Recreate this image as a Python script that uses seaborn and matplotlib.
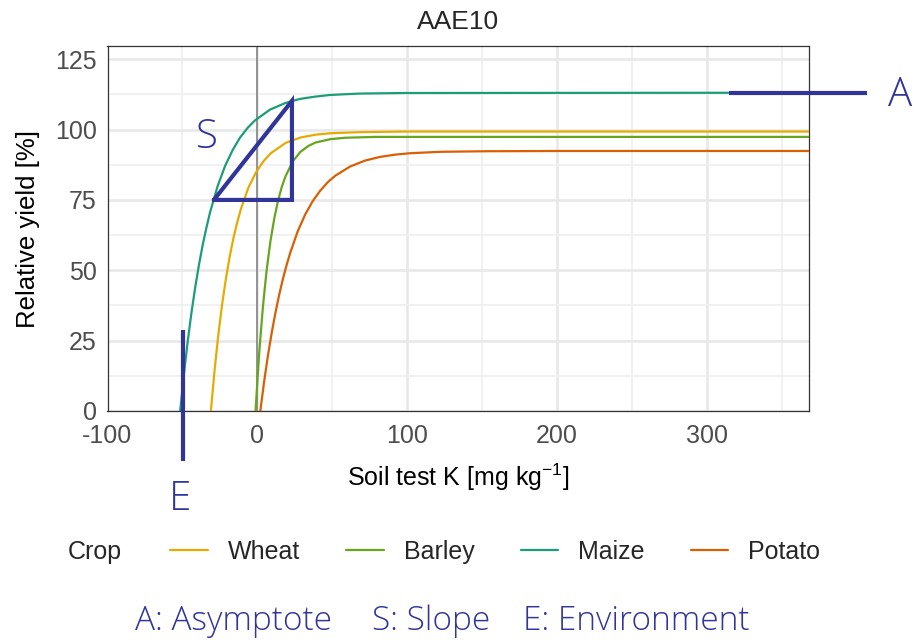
import numpy as np
import pandas as pd
import matplotlib
matplotlib.use("Agg")
import matplotlib.pyplot as plt
import seaborn as sns
from matplotlib.lines import Line2D

# ---------------- data ----------------
crops = ["Wheat", "Barley", "Maize", "Potato"]
crop_colors = ["#E6AB02", "#66A61E", "#1B9E77", "#D95F02"]

wheat_x = [-31, -28.5, -26, -23.5, -21, -18.5, -16, -13.5, -11, -6, -1, 4, 9, 19, 29, 39, 49, 69, 99, 368]
wheat_y = [0, 14.7, 27.2, 37.9, 46.9, 54.7, 61.3, 66.9, 71.7, 79.3, 84.7, 88.7, 91.6, 95.3, 97.2, 98.2, 98.7, 99.1, 99.3, 99.3]

barley_x = [-1.2, 0.1, 1.3, 2.6, 3.8, 5.1, 6.3, 7.6, 8.8, 11.3, 13.8, 16.3, 18.8, 23.8, 28.8, 33.8, 38.8, 48.8, 58.8, 78.8, 368]
barley_y = [0, 11.1, 21.0, 29.7, 37.4, 44.3, 50.4, 55.7, 60.5, 68.4, 74.7, 79.6, 83.4, 88.8, 92.1, 94.1, 95.4, 96.6, 97.1, 97.4, 97.4]

maize_x = [-51.5, -49, -46.5, -44, -41.5, -39, -36.5, -34, -31.5, -26.5, -21.5, -16.5, -11.5, -6.5, -1.5, 8.5, 18.5, 28.5, 38.5, 48.5, 68.5, 98.5, 368]
maize_y = [0, 13.0, 24.6, 34.8, 43.8, 51.8, 58.9, 65.1, 70.7, 79.9, 87.1, 92.7, 97.2, 100.6, 103.3, 107.1, 109.4, 110.9, 111.7, 112.3, 112.8, 113.0, 113.1]

potato_x = [2, 4.5, 7, 9.5, 12, 14.5, 17, 19.5, 22, 27, 32, 37, 42, 47, 52, 62, 72, 82, 92, 102, 122, 152, 202, 368]
potato_y = [0, 10.3, 19.4, 27.5, 34.7, 41.1, 46.8, 51.8, 56.3, 63.9, 69.9, 74.6, 78.3, 81.3, 83.6, 86.9, 89.0, 90.3, 91.1, 91.6, 92.1, 92.3, 92.4, 92.4]

x_ticks = [-100, 0, 100, 200, 300]
x_tick_labels = ["-100", "0", "100", "200", "300"]
y_ticks = [0, 25, 50, 75, 100, 125]
y_tick_labels = ["0", "25", "50", "75", "100", "125"]

title = "AAE10"
x_label = r"Soil test K [mg kg$^{-1}$]"
y_label = "Relative yield [%]"
legend_title = "Crop"
footer_items = ["A: Asymptote", "S: Slope", "E: Environment"]

# annotation geometry (data units)
asym_line_x = [315, 407]
asym_line_y = [113.1, 113.1]
slope_tri_x = [-29, 23.1, 23.1, -29]
slope_tri_y = [75, 110.2, 75, 75]
env_line_x = [-49.3, -49.3]
env_line_y = [28.8, -17.8]

# ---------------- build long table ----------------
frames = []
for name, xs, ys in [("Wheat", wheat_x, wheat_y), ("Barley", barley_x, barley_y),
                     ("Maize", maize_x, maize_y), ("Potato", potato_x, potato_y)]:
    frames.append(pd.DataFrame({"K": xs, "Yield": ys, "Crop": name}))
df = pd.concat(frames, ignore_index=True)

# ---------------- style ----------------
sns.set_style("white")
plt.rcParams["font.family"] = ["Liberation Sans", "DejaVu Sans"]
plt.rcParams["mathtext.fontset"] = "custom"
plt.rcParams["mathtext.rm"] = "Liberation Sans"
plt.rcParams["mathtext.it"] = "Liberation Sans:italic"
plt.rcParams["mathtext.bf"] = "Liberation Sans:bold"

W, H = 915, 640
fig = plt.figure(figsize=(W / 100, H / 100), dpi=100)
L, R, T, B = 107.5, 808.7, 46, 411
ax = fig.add_axes([L / W, 1 - B / H, (R - L) / W, (B - T) / H])

ax.set_xlim(-100, 368)
ax.set_ylim(0, 129.7)

# grid
ax.set_xticks(x_ticks)
ax.set_xticklabels(x_tick_labels)
ax.set_yticks(y_ticks)
ax.set_yticklabels(y_tick_labels)
ax.set_xticks([-50, 50, 150, 250, 350], minor=True)
ax.set_yticks([12.5, 37.5, 62.5, 87.5, 112.5], minor=True)
ax.grid(True, which="major", color="#E8E8E8", lw=1.9, zorder=0)
ax.grid(True, which="minor", color="#F0F0F0", lw=1.3, zorder=0)
ax.set_axisbelow(True)
ax.tick_params(which="minor", length=0)
ax.tick_params(which="major", length=3.2, width=0.9, color="#333333",
               labelsize=18, labelcolor="#4D4D4D")
ax.tick_params(axis="x", which="major", pad=6)
ax.tick_params(axis="y", which="major", pad=4.5)

ax.axvline(0, color="#8C8C8C", lw=1.3, zorder=1)

sns.lineplot(data=df, x="K", y="Yield", hue="Crop", hue_order=crops,
             palette=crop_colors, lw=1.6, sort=False, estimator=None,
             legend=False, ax=ax, zorder=3)

for s in ax.spines.values():
    s.set_color("#333333")
    s.set_linewidth(0.9)

ax.set_xlabel(x_label, fontsize=18, color="black")
ax.set_ylabel(y_label, fontsize=18.5, color="black")
ax.xaxis.set_label_coords(0.5, (B - 462) / (B - T))
ax.yaxis.set_label_coords((40 - L) / (R - L), 0.5)

fig.text(458 / W, 1 - 22 / H, title, ha="center", va="center", fontsize=19)

# legend
fig.text(68 / W, 1 - 552 / H, legend_title, ha="left", va="center", fontsize=18)
handles = [Line2D([0], [0], color=c, lw=1.6) for c in crop_colors]
fig.legend(handles, crops, loc="center left", bbox_to_anchor=(170 / W, 1 - 552 / H),
           ncol=4, frameon=False, fontsize=18, handlelength=1.5, handletextpad=0.8,
           columnspacing=1.85, borderaxespad=0, borderpad=0)

# annotations
navy = "#31359A"
ax.plot(asym_line_x, asym_line_y, color=navy, lw=3, clip_on=False, zorder=5,
        solid_capstyle="butt")
ax.plot(slope_tri_x, slope_tri_y, color=navy, lw=3, clip_on=False, zorder=5,
        solid_joinstyle="miter")
ax.plot(env_line_x, env_line_y, color=navy, lw=3, clip_on=False, zorder=5,
        solid_capstyle="butt")
ann_font = ["Open Sans", "DejaVu Sans"]
fig.text(900 / W, 1 - 95 / H, "A", ha="center", va="center", fontsize=29,
         color=navy, family=ann_font, fontweight="light")
fig.text(207 / W, 1 - 137 / H, "S", ha="center", va="center", fontsize=29,
         color=navy, family=ann_font, fontweight="light")
fig.text(180 / W, 1 - 500 / H, "E", ha="center", va="center", fontsize=29,
         color=navy, family=ann_font, fontweight="light")

for txt, xl in zip(footer_items, [135, 372, 523]):
    fig.text(xl / W, 1 - 621 / H, txt, ha="left", va="center", fontsize=24,
             color=navy, family=ann_font, fontweight="light")

fig.savefig("out.png", dpi=100)
